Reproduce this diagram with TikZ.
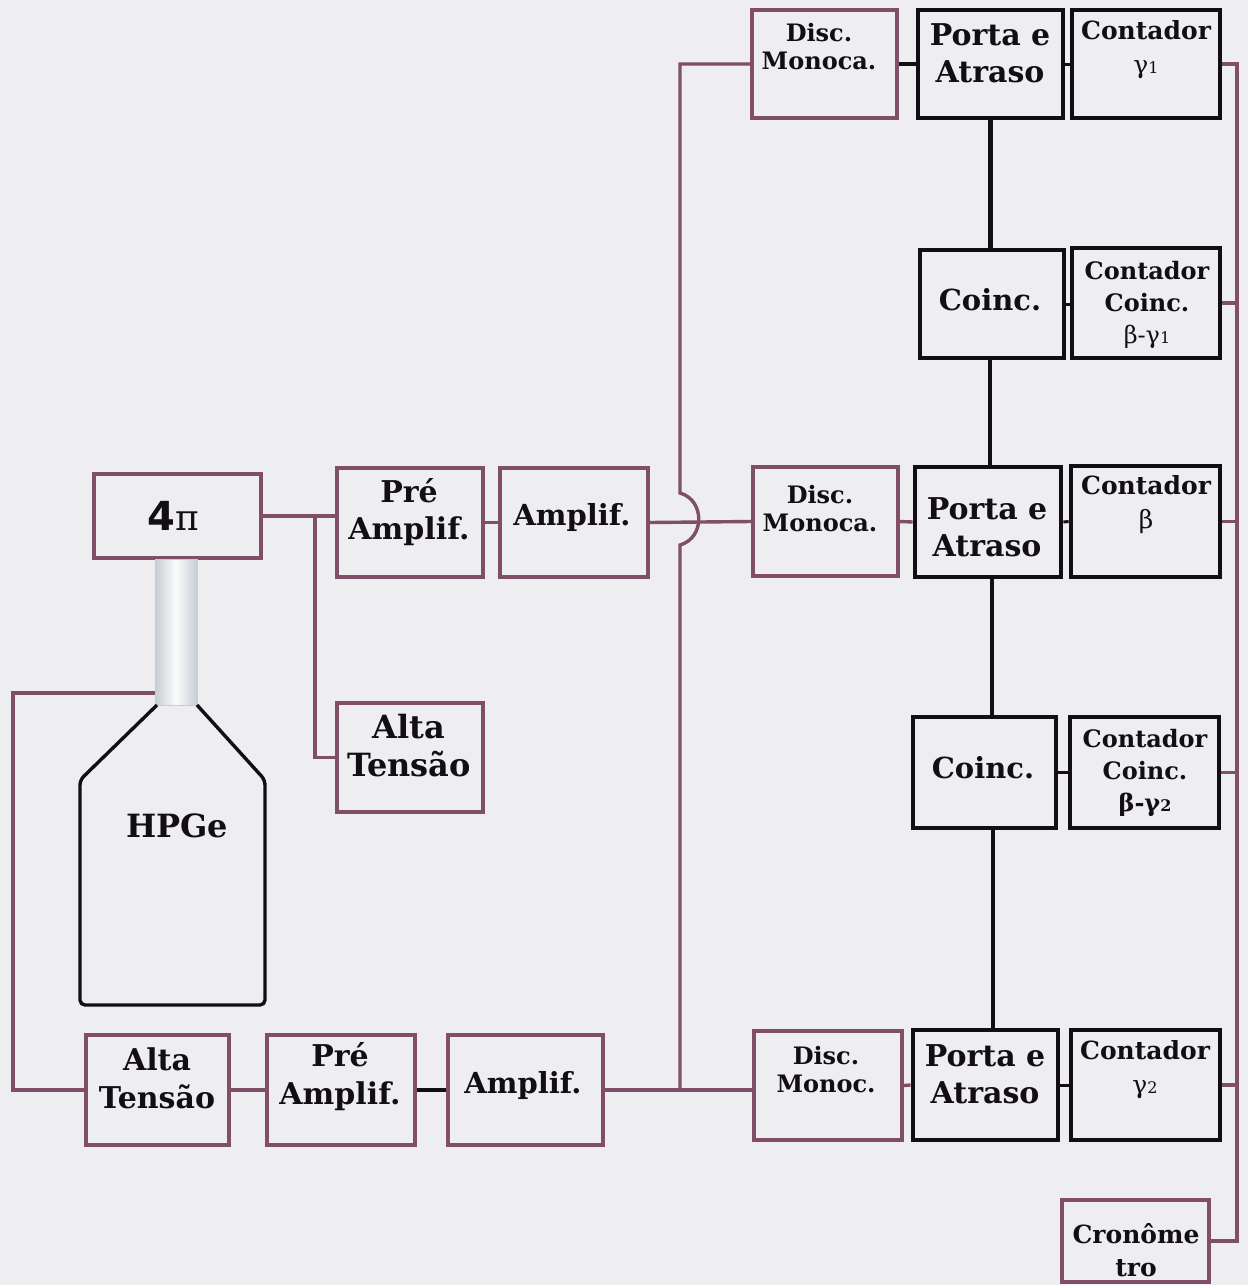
\documentclass[tikz,border=0pt]{standalone}
\usepackage{fontspec}
\setmainfont{DejaVu Serif}
\newfontfamily\sansfam{DejaVu Sans}
\definecolor{bg}{RGB}{238,238,240}
\definecolor{mauve}{RGB}{128,78,102}
\definecolor{ink}{RGB}{18,14,18}
\definecolor{neckc}{RGB}{200,205,212}
\begin{document}
\begin{tikzpicture}[x=1pt,y=-1pt,
  mbox/.style={rectangle,draw=mauve,line width=3.6pt,fill=bg,inner sep=0pt},
  kbox/.style={rectangle,draw=ink,line width=4.8pt,fill=bg,inner sep=0pt},
  wire/.style={draw=mauve,line width=3.4pt},
  kwire/.style={draw=ink,line width=4.6pt},
  twire/.style={draw=ink,line width=3pt},
  tsm/.style={align=center,inner sep=0pt,text=ink,font=\fontsize{24}{28}\selectfont\bfseries},
  tct/.style={align=center,inner sep=0pt,text=ink,font=\fontsize{25}{34}\selectfont\bfseries},
  tbig/.style={align=center,inner sep=0pt,text=ink,font=\fontsize{30}{37}\selectfont\bfseries},
  tco/.style={align=center,inner sep=0pt,text=ink,font=\fontsize{29}{37}\selectfont\bfseries},
  thg/.style={align=center,inner sep=0pt,text=ink,font=\fontsize{31}{38}\selectfont\bfseries}]

\fill[bg] (0,0) rectangle (1248,1285);
\useasboundingbox (0,0) rectangle (1248,1285);

% ---- boxes, top row
\node[mbox,minimum width=145,minimum height=108] (dm1) at (824.5,64) {};
\node[kbox,minimum width=145,minimum height=108] (pt1) at (990.5,64) {};
\node[kbox,minimum width=148,minimum height=108] (c1)  at (1146,64) {};
% ---- first coincidence row
\node[kbox,minimum width=144,minimum height=108] (co1) at (992,304) {};
\node[kbox,minimum width=148,minimum height=110] (cc1) at (1146,303) {};
% ---- 4pi chain
\node[mbox,minimum width=167,minimum height=84]  (fp)  at (177.5,516) {};
\node[mbox,minimum width=146,minimum height=109] (pa1) at (410,522.5) {};
\node[mbox,minimum width=148,minimum height=109] (am1) at (574,522.5) {};
\node[mbox,minimum width=145,minimum height=109] (dm2) at (825.5,521.5) {};
\node[kbox,minimum width=146,minimum height=110] (pt2) at (988,522) {};
\node[kbox,minimum width=149,minimum height=111] (cb)  at (1145.5,521.5) {};
\node[mbox,minimum width=146,minimum height=109] (ht1) at (410,757.5) {};
% ---- second coincidence row
\node[kbox,minimum width=143,minimum height=111] (co2) at (984.5,772.5) {};
\node[kbox,minimum width=149,minimum height=111] (cc2) at (1144.5,772.5) {};
% ---- HPGe chain
\node[mbox,minimum width=143,minimum height=110] (ht2) at (157.5,1090) {};
\node[mbox,minimum width=148,minimum height=110] (pa2) at (341,1090) {};
\node[mbox,minimum width=155,minimum height=110] (am2) at (525.5,1090) {};
\node[mbox,minimum width=148,minimum height=109] (dm3) at (828,1085.5) {};
\node[kbox,minimum width=145,minimum height=110] (pt3) at (985.5,1085) {};
\node[kbox,minimum width=149,minimum height=110] (c2)  at (1145.5,1085) {};
% ---- timer
\node[mbox,minimum width=147,minimum height=82]  (cr)  at (1135.5,1241) {};

% ---- HPGe detector: neck and body
\node[rectangle,draw=neckc,line width=1pt,left color=neckc,right color=neckc,
      middle color=white!92!neckc,minimum width=42,minimum height=146,inner sep=0pt]
      (neck) at (176,632) {};
\draw[ink,line width=3.4pt,line join=round,rounded corners=5pt]
  (157,705) -- (80,780) -- (80,1005) -- (265,1005) -- (265,780) -- (197,705);
\coordinate (nk) at (155,693);
\coordinate (lw) at (13,693);

% ---- connectors
\coordinate (br) at (315,518);
\draw[wire] (fp.east) -- (fp.east -| pa1.west);
\draw[wire] (br) |- (ht1.west);
\draw[wire] (pa1.east) -- (am1.west);
\draw[wire] (am1.east) -- (dm2.west);
\draw[wire] (dm2.east) -- (pt2.west);
\draw[twire] (pt2.east) -- (cb.west);

\draw[kwire] (dm1.east) -- (pt1.west);
\draw[twire] (pt1.east) -- (c1.west);
\draw[twire] (co1.east) -- (cc1.west |- co1.east);
\draw[twire] (co2.east) -- (cc2.west |- co2.east);

% timing chain between gates and coincidence units
\draw[kwire] (pt1.south) -- (pt1.south |- co1.north);
\draw[kwire] (co1.south -| 990,0) -- (pt2.north -| 990,0);
\draw[kwire] (pt2.south -| 992,0) -- (co2.north -| 992,0);
\draw[kwire] (co2.south -| 993,0) -- (pt3.north -| 993,0);

% bottom chain
\draw[wire] (nk) -- (lw) |- (ht2.west);
\draw[wire] (ht2.east) -- (pa2.west);
\draw[kwire] (pa2.east) -- (am2.west);
\draw[wire] (am2.east) -- (am2.east -| dm3.west);
\draw[wire] (dm3.east) -- (pt3.west);
\draw[twire] (pt3.east) -- (c2.west);

% gamma line to the upper discriminator, hopping over the beta line
\coordinate (jtop) at (680,493);
\coordinate (jbot) at (680,545);
\draw[wire] (dm1.west) -| (jtop) .. controls +(25,7) and +(25,-7) .. (jbot) -- (jbot |- am2.east);

% scaler bus
\coordinate (busT) at (1237,64);
\draw[wire] (c1.east) -- (busT) -- (busT |- cr.east) -- (cr.east);
\draw[wire] (cc1.east) -- (cc1.east -| busT);
\draw[wire] (cb.east) -- (cb.east -| busT);
\draw[wire] (cc2.east) -- (cc2.east -| busT);
\draw[wire] (c2.east) -- (c2.east -| busT);

% ---- labels
\node[tsm]  (dm1t) at (819,47) {Disc.\\Monoca.};
\node[tbig] (pt1t) at (990,53) {Porta e\\Atraso};
\node[tct]  (c1t)  at (1146,50) {Contador\\{\mdseries γ\fontsize{16}{16}\selectfont 1}};
\node[tco]  (co1t) at (990,300) {Coinc.};
\node[tct,font=\fontsize{24}{32}\selectfont\bfseries] (cc1t) at (1147,305)
  {Contador\\Coinc.\\{\mdseries β-γ\fontsize{16}{16}\selectfont 1}};
\node[inner sep=0pt,text=ink] (fpt) at (173,516)
  {{\sansfam\bfseries\fontsize{40}{40}\selectfont 4}{\fontsize{36}{36}\selectfont π}};
\node[thg,font=\fontsize{30}{37}\selectfont\bfseries]  (pa1t) at (409,512) {Pré\\Amplif.};
\node[thg,font=\fontsize{29}{37}\selectfont\bfseries]  (am1t) at (572,517) {Amplif.};
\node[tsm]  (dm2t) at (820,509) {Disc.\\Monoca.};
\node[tbig] (pt2t) at (987,527) {Porta e\\Atraso};
\node[tct]  (cbt)  at (1146,505) {Contador\\{\mdseries β}};
\node[thg,font=\fontsize{32}{38}\selectfont\bfseries]  (ht1t) at (409,746) {Alta\\Tensão};
\node[thg,font=\fontsize{32}{38}\selectfont\bfseries]  (hpt)  at (177,826) {HPGe};
\node[tco]  (co2t) at (983,768) {Coinc.};
\node[tct,font=\fontsize{24}{32}\selectfont\bfseries] (cc2t) at (1145,773)
  {Contador\\Coinc.\\β-γ{\fontsize{16}{16}\selectfont 2}};
\node[thg,font=\fontsize{30}{38}\selectfont\bfseries]  (ht2t) at (157,1078) {Alta\\Tensão};
\node[thg,font=\fontsize{30}{38}\selectfont\bfseries]  (pa2t) at (340,1077) {Pré\\Amplif.};
\node[thg,font=\fontsize{29}{37}\selectfont\bfseries]  (am2t) at (523,1085) {Amplif.};
\node[tsm]  (dm3t) at (826,1070) {Disc.\\Monoc.};
\node[tbig] (pt3t) at (985,1074) {Porta e\\Atraso};
\node[tct]  (c2t)  at (1145,1070) {Contador\\{\mdseries γ\fontsize{16}{16}\selectfont 2}};
\node[tct,font=\fontsize{25}{33}\selectfont\bfseries]  (crt)  at (1136,1250) {Cronôme\\tro};
\end{tikzpicture}
\end{document}
